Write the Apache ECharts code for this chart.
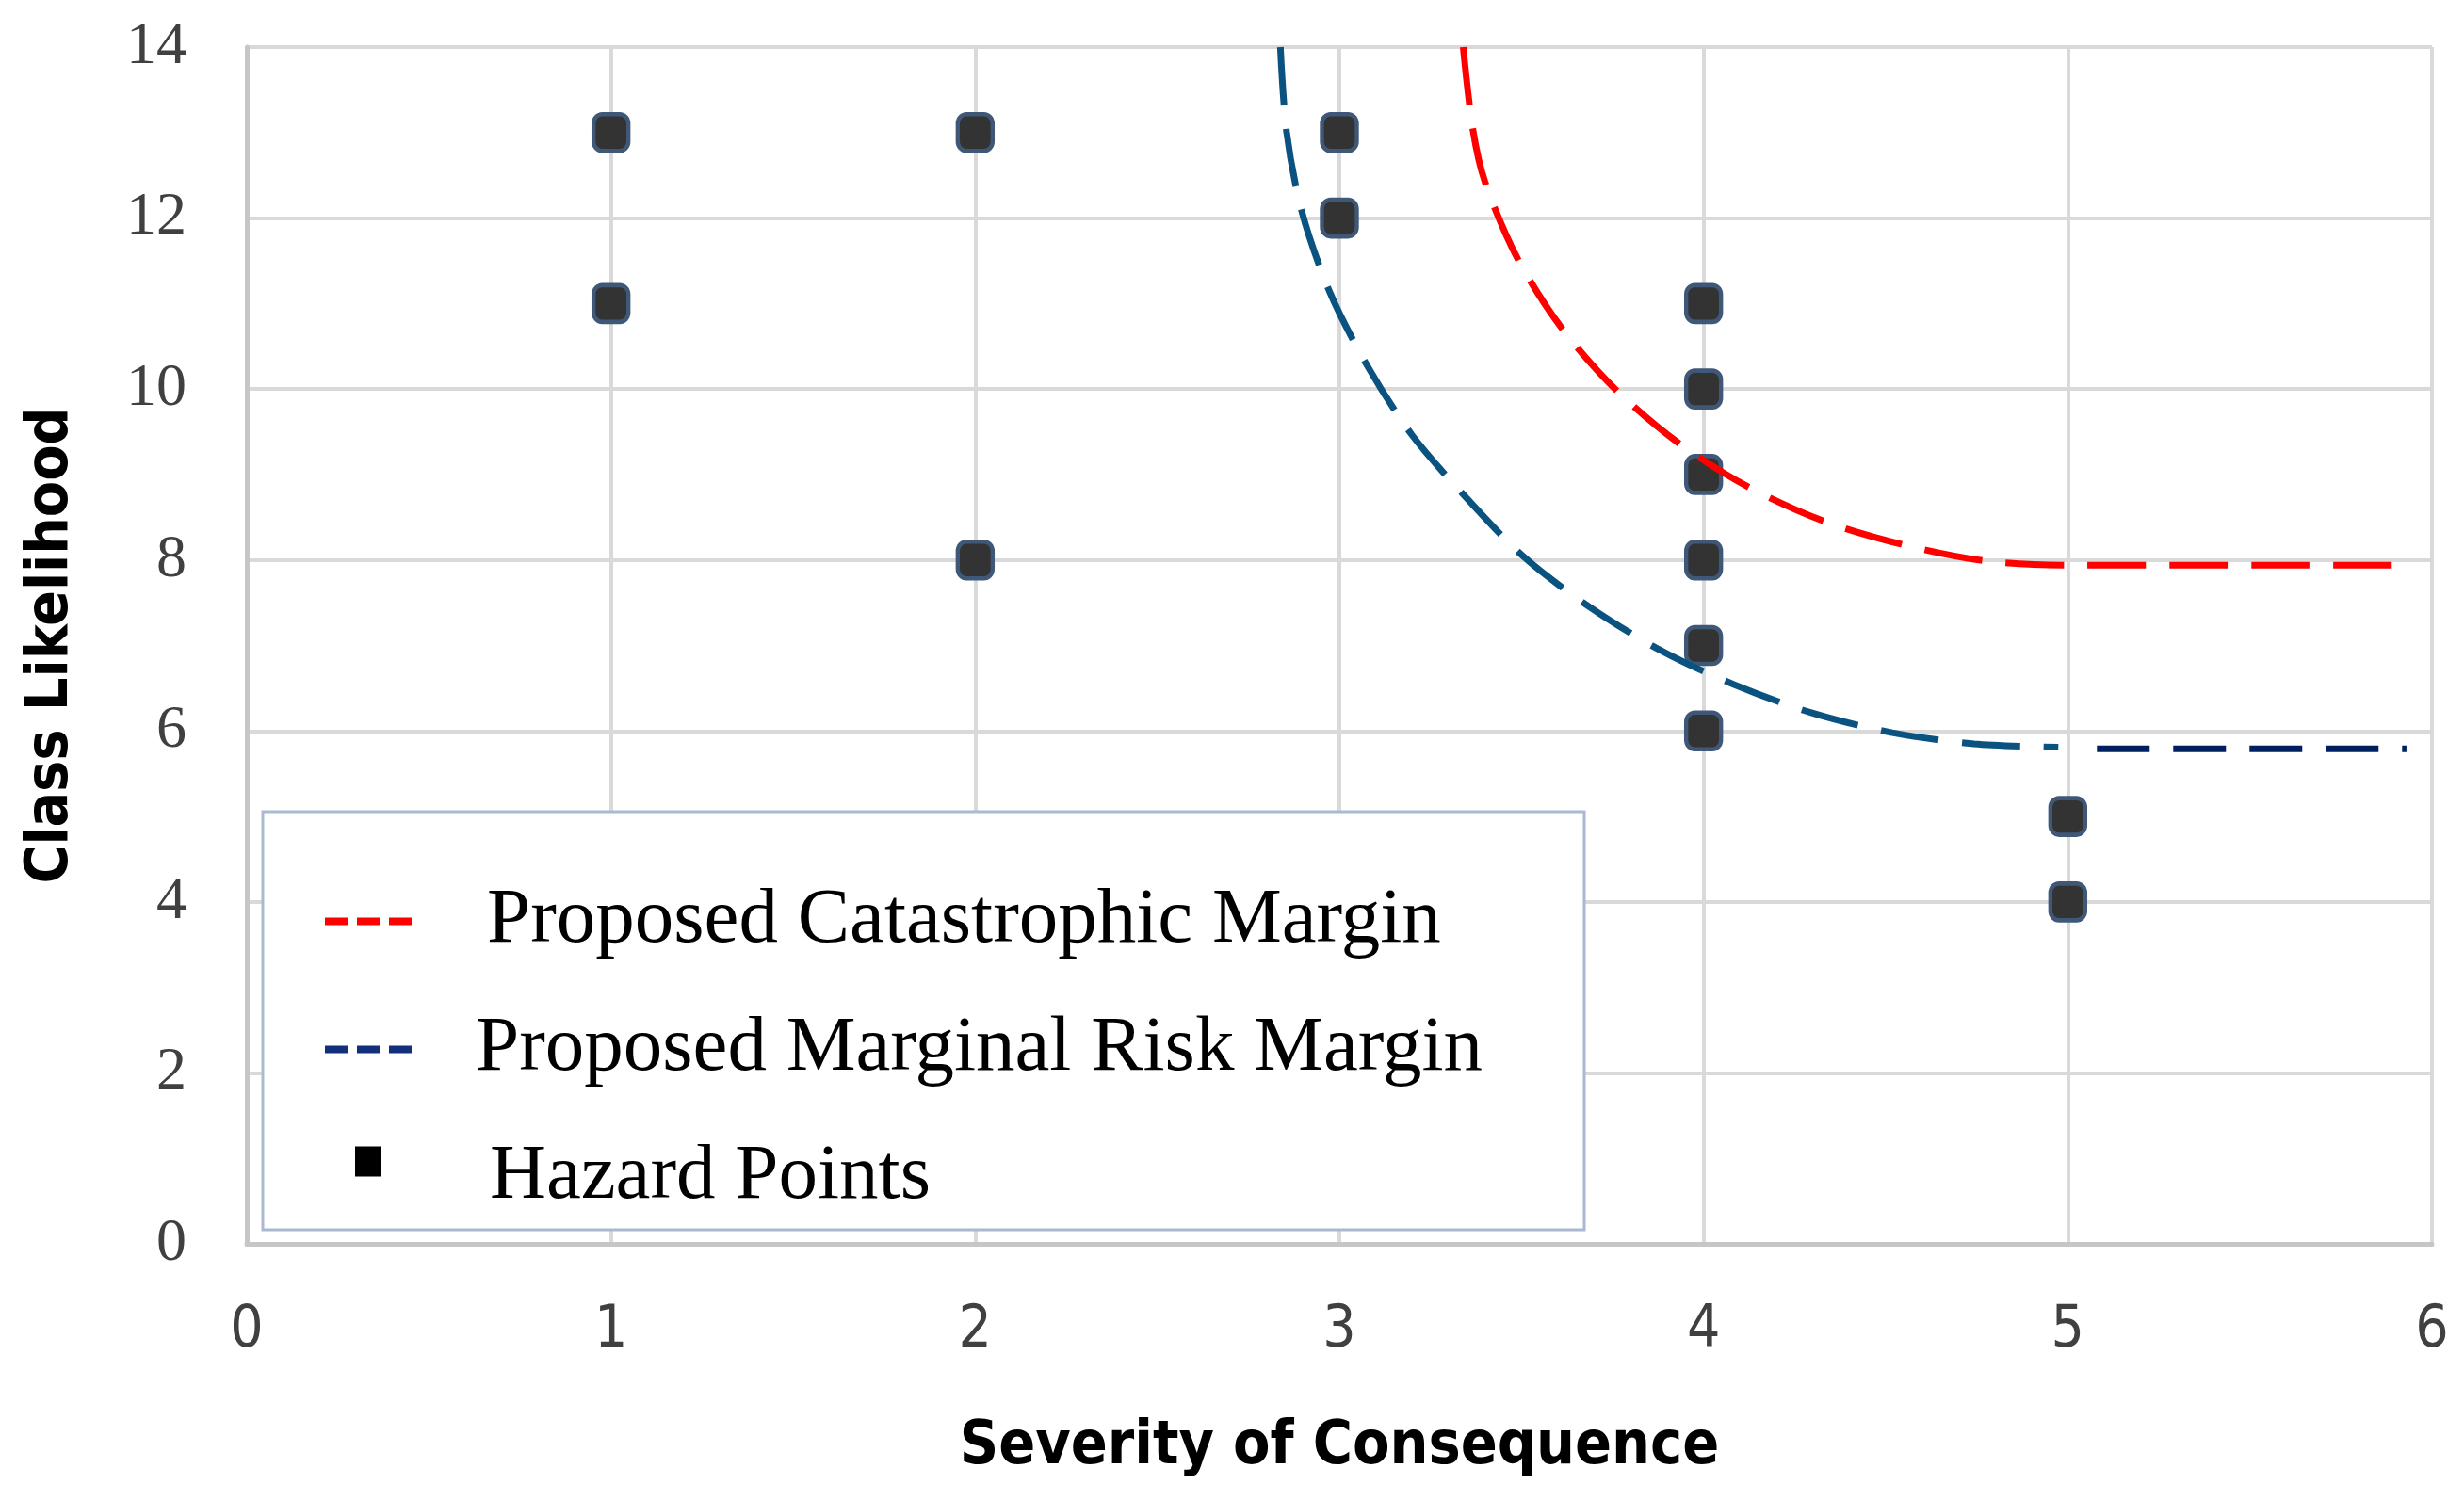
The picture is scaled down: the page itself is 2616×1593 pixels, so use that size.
<!DOCTYPE html>
<html>
<head>
<meta charset="utf-8">
<script src="https://cdn.jsdelivr.net/npm/echarts@6/dist/echarts.min.js"></script>
<style>
html,body{margin:0;padding:0;background:#fff;}
#chart{width:2616px;height:1593px;}
</style>
</head>
<body>
<div id="chart"></div>
<script>
// ---- data ----
const xTicks = [0, 1, 2, 3, 4, 5, 6];
const yTicks = [0, 2, 4, 6, 8, 10, 12, 14];

const hazardX = [1, 1, 2, 2, 3, 3, 4, 4, 4, 4, 4, 4, 5, 5];
const hazardY = [13, 11, 13, 8, 13, 12, 11, 10, 9, 8, 7, 6, 5, 4];

const catastrophicX = [3.340, 3.366, 3.400, 3.490, 3.611, 3.762, 3.934, 4.125, 4.333, 4.547, 4.772, 5.002, 5.300, 5.600, 5.940];
const catastrophicY = [14.0, 13.05, 12.42, 11.52, 10.71, 9.98, 9.36, 8.85, 8.45, 8.18, 7.99, 7.94, 7.94, 7.94, 7.94];

const marginalCurveX = [2.838, 2.855, 2.896, 2.973, 3.077, 3.198, 3.348, 3.508, 3.687, 3.883, 4.085, 4.298, 4.518, 4.743, 4.974];
const marginalCurveY = [14.0, 13.01, 12.09, 11.14, 10.27, 9.47, 8.73, 8.03, 7.45, 6.94, 6.54, 6.21, 5.98, 5.85, 5.81];
const marginalFlatX = [5.08, 5.93];
const marginalFlatY = [5.79, 5.79];

const seriesNames = ['Proposed Catastrophic Margin', 'Proposed Marginal Risk Margin', 'Hazard Points'];

function zip(a, b) { return a.map((v, i) => [v, b[i]]); }

const chart = echarts.init(document.getElementById('chart'));
const dashIcon = 'path://M0 0H24V8H0Z M34 0H58V8H34Z M68 0H92V8H68Z';
// square sitting in the upper part of the legend slot (zero-area tail only extends the bounds)
const squareIcon = 'path://M0 0H28V32H0Z M14 66H14.01';

const sansCond = 'Liberation Sans Narrow, DejaVu Sans Condensed, sans-serif';
const serif = 'Liberation Serif, serif';

const option = {
  backgroundColor: '#ffffff',
  animation: false,
  grid: { left: 262, right: 34, top: 50, bottom: 272, containLabel: false },
  xAxis: {
    type: 'value', min: 0, max: 6, interval: 1,
    name: 'Severity of Consequence', nameLocation: 'middle', nameGap: 184,
    nameTextStyle: { fontFamily: sansCond, fontWeight: 'bold', fontSize: 64, color: '#000' },
    axisLine: { show: true, lineStyle: { color: '#c6c6c6', width: 5 } },
    axisTick: { show: false },
    axisLabel: { margin: 62, fontFamily: sansCond, fontSize: 62, color: '#404040',
      formatter: v => xTicks.includes(v) ? String(v) : '' },
    splitLine: { show: true, lineStyle: { color: '#d9d9d9', width: 4 } }
  },
  yAxis: {
    type: 'value', min: 0, max: 14, interval: 2,
    name: 'Class Likelihood', nameLocation: 'middle', nameGap: 176, nameRotate: 90,
    nameTextStyle: { fontFamily: sansCond, fontWeight: 'bold', fontSize: 62, color: '#000' },
    axisLine: { show: true, lineStyle: { color: '#c6c6c6', width: 5 } },
    axisTick: { show: false },
    axisLabel: { margin: 64, fontFamily: serif, fontSize: 64, color: '#404040',
      formatter: v => yTicks.includes(v) ? String(v) : '' },
    splitLine: { show: true, lineStyle: { color: '#d9d9d9', width: 4 } }
  },
  legend: {
    orient: 'vertical', left: 279, top: 862,
    padding: [75, 108, 14, 66],
    backgroundColor: '#ffffff', borderColor: '#aab9d1', borderWidth: 3,
    itemWidth: 92, itemHeight: 66, itemGap: 53,
    selectedMode: false,
    data: [
      { name: seriesNames[0], icon: dashIcon, itemStyle: { color: '#ff0000' } },
      { name: seriesNames[1], icon: dashIcon, itemStyle: { color: '#12307a' } },
      { name: seriesNames[2], icon: squareIcon, itemStyle: { color: '#000000', borderWidth: 0 } }
    ],
    formatter: function (name) {
      const key = name === seriesNames[0] ? 'a' : (name === seriesNames[1] ? 'b' : 'c');
      return '{' + key + '|' + name + '}';
    },
    textStyle: {
      color: '#000',
      rich: {
        a: { fontFamily: serif, fontSize: 83, lineHeight: 80, color: '#000', padding: [0, 0, 0, 75] },
        b: { fontFamily: serif, fontSize: 83, lineHeight: 80, color: '#000', padding: [0, 0, 0, 63] },
        c: { fontFamily: serif, fontSize: 83, lineHeight: 80, color: '#000', padding: [0, 0, 0, 78] }
      }
    }
  },
  series: [
    {
      name: seriesNames[2], type: 'scatter', z: 2,
      data: zip(hazardX, hazardY),
      symbol: 'roundRect', symbolSize: [37, 39],
      itemStyle: { color: '#333333', borderColor: '#3f5878', borderWidth: 4.5, opacity: 1 }
    },
    {
      name: seriesNames[0], type: 'line', z: 3,
      data: zip(catastrophicX, catastrophicY),
      smooth: 0.3, showSymbol: false, symbol: 'none',
      lineStyle: { color: '#ff0000', width: 7, type: [62, 25] },
      itemStyle: { color: '#ff0000' }
    },
    {
      name: seriesNames[1], type: 'line', z: 3,
      data: zip(marginalCurveX, marginalCurveY),
      smooth: 0.3, showSymbol: false, symbol: 'none',
      lineStyle: { color: '#0a5280', width: 7, type: [62, 25] },
      itemStyle: { color: '#0a5280' }
    },
    {
      name: seriesNames[1], type: 'line', z: 3,
      data: zip(marginalFlatX, marginalFlatY),
      showSymbol: false, symbol: 'none',
      lineStyle: { color: '#001f5f', width: 7, type: [56, 25] },
      itemStyle: { color: '#001f5f' }
    }
  ]
};
chart.setOption(option);
</script>
</body>
</html>
